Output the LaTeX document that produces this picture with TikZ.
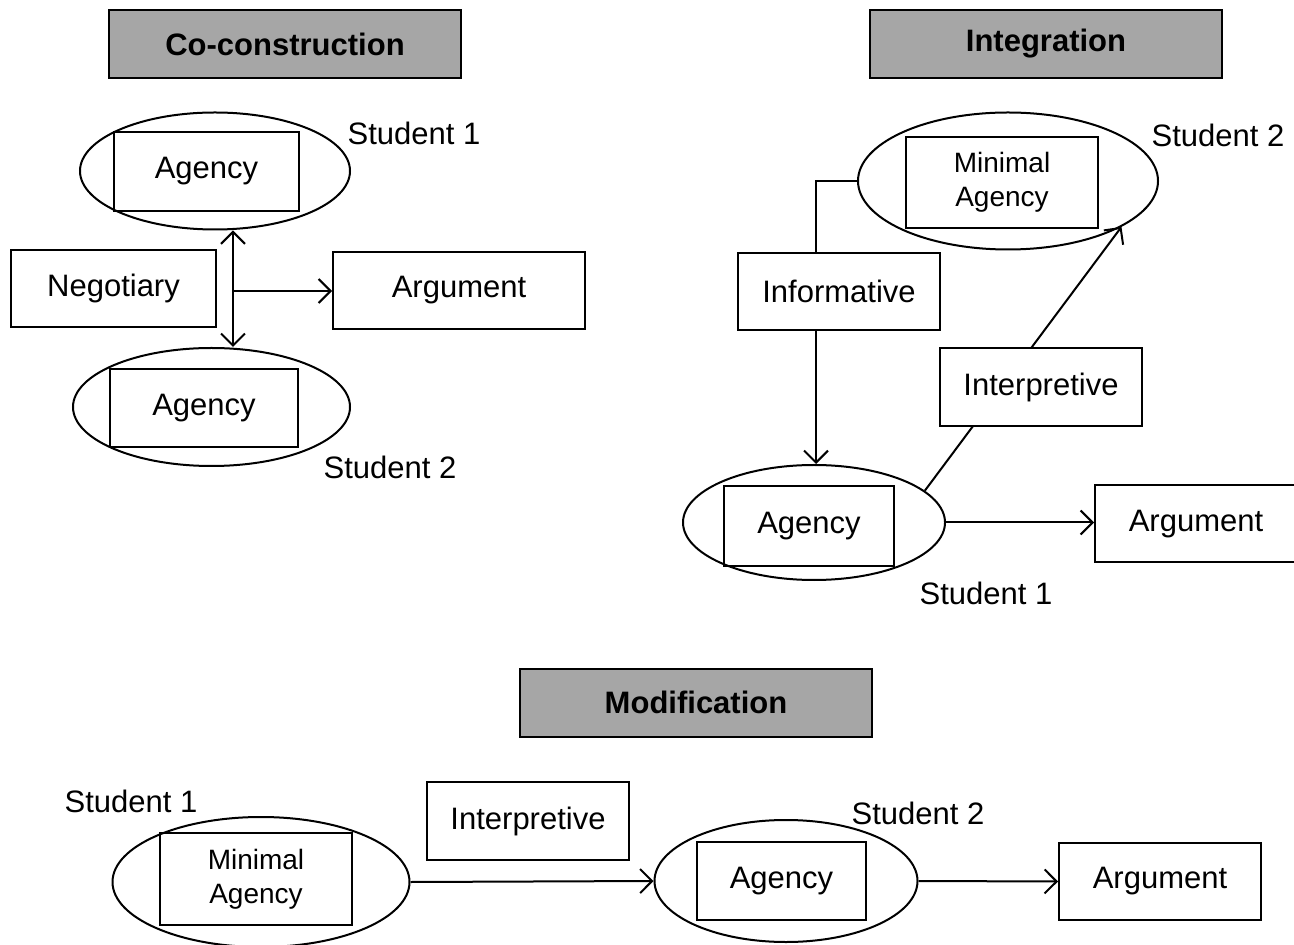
\documentclass[tikz,border=0pt]{standalone}
\usepackage{fontspec}
\setmainfont{Liberation Sans}
\usetikzlibrary{shapes.geometric, arrows.meta, calc, positioning}
\definecolor{headgray}{HTML}{A6A6A6}
\tikzstyle{heading} = [rectangle, minimum width=176pt, minimum height=34pt, inner sep=0pt, text centered, draw=black, line width=1pt, fill=headgray, font=\fontsize{15.5pt}{18pt}\selectfont\bfseries]
\tikzstyle{student} = [ellipse, inner sep=0pt, draw=black, line width=1pt]
\tikzstyle{agentbox} = [rectangle, inner sep=0pt, text centered, draw=black, line width=1pt]
\tikzstyle{actbox} = [rectangle, minimum width=101pt, minimum height=38.5pt, inner sep=0pt, text centered, draw=black, line width=1pt, fill=white]
\tikzstyle{small} = [align=center, font=\fontsize{14pt}{17pt}\selectfont]
\tikzstyle{arrow} = [line width=1pt, ->, >={Straight Barb[length=6pt, width=12pt]}]
\tikzstyle{line} = [draw, line width=1pt]

\begin{document}
\begin{tikzpicture}[x=0.5pt, y=-0.5pt, font=\fontsize{15.5pt}{18pt}\selectfont]
  \useasboundingbox (0,0) rectangle (1294,945);
  \clip (0,0) rectangle (1294,945);

  % Co-construction
  \node (headA) [heading] at (285,44) {Co-construction};

  \node (ellA1) [student, minimum width=135pt, minimum height=58.5pt] at (215,171) {};
  \node (agA1) [agentbox, minimum width=92.5pt, minimum height=39.5pt] at (206.5,171.5) {Agency};
  \node (lblA1) at (414,133) {Student 1};

  \node (neg) [actbox, minimum width=102.5pt] at (113.5,288.5) {Negotiary};
  \node (argA) [actbox, minimum width=126pt] at (459,290.5) {Argument};

  \node (ellA2) [student, minimum width=138.5pt, minimum height=59pt] at (211.5,407) {};
  \node (agA2) [agentbox, minimum width=94pt, minimum height=39pt] at (204,408) {Agency};
  \node (lblA2) at (390,467) {Student 2};

  \coordinate (jA) at (233,291);
  \draw [arrow, <->] (jA |- ellA1.south) -- (jA |- ellA2.north);
  \draw [arrow] (jA) -- (jA -| argA.west);

  % Integration
  \node (headB) [heading] at (1046,44) {Integration};

  \node (ellB2) [student, minimum width=150pt, minimum height=68.5pt] at (1008,181) {};
  \node (agB2) [agentbox, small, minimum width=96pt, minimum height=45.5pt] at (1002,182.5) {Minimal\\Agency};
  \node (lblB2) at (1218,135) {Student 2};

  \node (inf) [actbox] at (839,291.5) {Informative};

  \node (ellB1) [student, minimum width=131pt, minimum height=57.5pt] at (814,522.5) {};
  \node (agB1) [agentbox, minimum width=85pt, minimum height=40pt] at (809,526) {Agency};
  \node (lblB1) at (986,593) {Student 1};

  \node (argB) [actbox] at (1196,524) {Argument};

  \coordinate (xB) at (816,181);
  \path [line] (xB |- inf.north) |- (ellB2.west);
  \draw [arrow] (xB |- inf.south) -- (xB |- ellB1.north);
  \draw [arrow] (ellB1.16) -- (ellB2.-22);
  \draw [arrow] (ellB1.east) -- (ellB1.east -| argB.west);

  \node (interpB) [actbox, minimum height=39pt] at (1041,387) {Interpretive};

  % Modification
  \node (headC) [heading] at (696,702.5) {Modification};

  \node (lblC1) at (131,801) {Student 1};
  \node (ellC1) [student, minimum width=148.5pt, minimum height=65pt] at (261,882) {};
  \node (agC1) [agentbox, small, minimum width=96pt, minimum height=46pt] at (256,879) {Minimal\\Agency};

  \node (interpC) [actbox, minimum height=39pt] at (528,821) {Interpretive};

  \node (ellC2) [student, minimum width=131.5pt, minimum height=61pt] at (786,881) {};
  \node (agC2) [agentbox, minimum width=84.5pt, minimum height=39pt] at (781.5,881) {Agency};
  \node (lblC2) at (918,813) {Student 2};

  \node (argC) [actbox] at (1160,881.5) {Argument};

  \draw [arrow] (ellC1.east) -- (ellC2.west);
  \draw [arrow] (ellC2.east) -- (argC.west);
\end{tikzpicture}
\end{document}
